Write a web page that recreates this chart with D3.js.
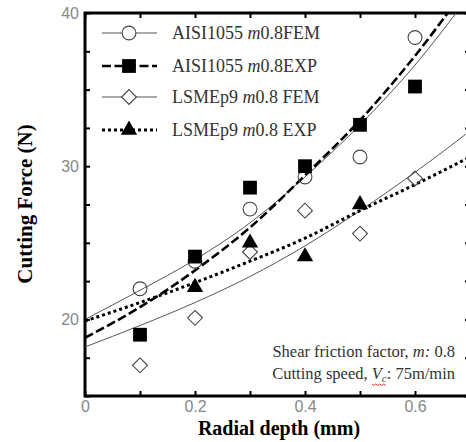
<!DOCTYPE html>
<html>
<head>
<meta charset="utf-8">
<script src="https://cdn.jsdelivr.net/npm/d3@7"></script>
<style>
  body { margin: 0; background: #fff; }
  svg { display: block; }
</style>
</head>
<body>
<div id="wrapper"></div>
<script>
// measured points
const depths = [0.1, 0.2, 0.3, 0.4, 0.5, 0.6];
const aisiFem = [22.0, 23.8, 27.2, 29.3, 30.6, 38.4];
const aisiExp = [19.0, 24.1, 28.6, 30.0, 32.7, 35.2];
const lsmeFem = [17.0, 20.1, 24.4, 27.1, 25.6, 29.2];
const lsmeExpDepths = [0.2, 0.3, 0.4, 0.5];
const lsmeExp = [22.1, 25.0, 24.1, 27.5];

// fitted curves
const fitDepths = [0, 0.1, 0.2, 0.3, 0.4, 0.5, 0.6, 0.7];
const aisiFemFit = [20.0, 21.9, 23.9, 26.3, 29.3, 32.7, 36.6, 41.2];
const aisiExpFit = [18.8, 20.8, 23.2, 26.0, 29.4, 33.0, 37.2, 42.0];
const lsmeFemFit = [18.2, 19.6, 21.1, 22.8, 24.8, 27.1, 29.6, 32.3];
const lsmeExpFit = [19.9, 21.1, 22.4, 23.8, 25.3, 27.1, 28.8, 30.6];

const xTicks = [0, 0.1, 0.2, 0.3, 0.4, 0.5, 0.6, 0.7];
const xTickLabels = ["0", "", "0.2", "", "0.4", "", "0.6", ""];
const yTicks = [15, 17.5, 20, 22.5, 25, 27.5, 30, 32.5, 35, 37.5, 40];
const yTickLabels = ["", "", "20", "", "", "", "30", "", "", "", "40"];

const legendLabels = ["AISI1055", "AISI1055", "LSMEp9", "LSMEp9"];
const legendSuffix = ["0.8FEM", "0.8EXP", "0.8 FEM", "0.8 EXP"];

const width = 466, height = 442;
const serif = "'Liberation Serif', 'DejaVu Serif', serif";

const svg = d3.select("#wrapper").append("svg")
  .attr("width", width)
  .attr("height", height);

const x = d3.scaleLinear().domain([0, 0.7]).range([85, 470]);
const y = d3.scaleLinear().domain([15, 40]).range([396, 13]);

svg.append("clipPath").attr("id", "plotclip")
  .append("rect")
  .attr("x", x(0)).attr("y", y(40))
  .attr("width", x(0.7) - x(0)).attr("height", y(15) - y(40));

// axes
const xAxisBottom = d3.axisBottom(x).tickValues(xTicks)
  .tickSizeInner(-5).tickSizeOuter(0).tickPadding(5)
  .tickFormat((d, i) => xTickLabels[i]);
const xAxisTop = d3.axisTop(x).tickValues(xTicks)
  .tickSizeInner(-5).tickSizeOuter(0).tickFormat("");
const yAxisLeft = d3.axisLeft(y).tickValues(yTicks)
  .tickSizeInner(-5).tickSizeOuter(0).tickPadding(6)
  .tickFormat((d, i) => yTickLabels[i]);
const yAxisRight = d3.axisRight(y).tickValues(yTicks)
  .tickSizeInner(-5).tickSizeOuter(0).tickFormat("");

const axes = [
  svg.append("g").attr("transform", `translate(0,${y(15)})`).call(xAxisBottom),
  svg.append("g").attr("transform", `translate(0,${y(40)})`).call(xAxisTop),
  svg.append("g").attr("transform", `translate(${x(0)},0)`).call(yAxisLeft),
  svg.append("g").attr("transform", `translate(${x(0.7)},0)`).call(yAxisRight)
];
axes.forEach(g => {
  g.select(".domain").remove();
  g.selectAll(".tick line").attr("stroke", "#000").attr("stroke-width", 2);
  g.selectAll(".tick text")
    .attr("fill", "#888")
    .style("font-family", "'Liberation Sans', Arial, sans-serif")
    .style("font-size", "16px");
});

svg.append("rect")
  .attr("x", x(0)).attr("y", y(40))
  .attr("width", x(0.7) - x(0)).attr("height", y(15) - y(40))
  .attr("fill", "none").attr("stroke", "#000").attr("stroke-width", 3);

// fitted curves
const line = d3.line()
  .x((d, i) => x(fitDepths[i]))
  .y(d => y(d))
  .curve(d3.curveMonotoneX);

const curves = svg.append("g").attr("clip-path", "url(#plotclip)");
const curveStyles = [
  { data: aisiFemFit, stroke: "#555", w: 1, dash: null },
  { data: lsmeFemFit, stroke: "#555", w: 1, dash: null },
  { data: aisiExpFit, stroke: "#000", w: 2.6, dash: "9,3.5" },
  { data: lsmeExpFit, stroke: "#000", w: 3, dash: "3,3" }
];
curveStyles.forEach(c => {
  curves.append("path")
    .attr("d", line(c.data))
    .attr("fill", "none")
    .attr("stroke", c.stroke)
    .attr("stroke-width", c.w)
    .attr("stroke-dasharray", c.dash);
});

// marker helpers
const sym = {
  circle: d3.symbol().type(d3.symbolCircle).size(150),
  square: d3.symbol().type(d3.symbolSquare).size(190),
  diamond: d3.symbol().type(d3.symbolDiamond2).size(140),
  triangle: d3.symbol().type(d3.symbolTriangle).size(115)
};
function drawMarker(g, kind, cx, cy) {
  const p = g.append("path")
    .attr("d", sym[kind]())
    .attr("transform", `translate(${cx},${cy})`);
  if (kind === "circle" || kind === "diamond") {
    p.attr("fill", "none").attr("stroke", "#444").attr("stroke-width", 1.1);
  } else {
    p.attr("fill", "#000");
  }
  return p;
}

const marks = svg.append("g");
depths.forEach((d, i) => drawMarker(marks, "circle", x(d), y(aisiFem[i])));
depths.forEach((d, i) => drawMarker(marks, "diamond", x(d), y(lsmeFem[i])));
depths.forEach((d, i) => drawMarker(marks, "square", x(d), y(aisiExp[i])));
lsmeExpDepths.forEach((d, i) => drawMarker(marks, "triangle", x(d), y(lsmeExp[i])));

// legend
const legendY = [33, 66, 97, 130];
const legendKinds = ["circle", "square", "diamond", "triangle"];
const legend = svg.append("g");
legendKinds.forEach((k, i) => {
  const s = curveStyles[[0, 2, 1, 3][i]];
  legend.append("line")
    .attr("x1", 102).attr("x2", 157)
    .attr("y1", legendY[i]).attr("y2", legendY[i])
    .attr("stroke", s.stroke).attr("stroke-width", s.w)
    .attr("stroke-dasharray", s.dash);
  const m = drawMarker(legend, k, 129, legendY[i]);
  if (k === "circle" || k === "diamond") m.attr("fill", "#fff");
  const t = legend.append("text")
    .attr("x", 172).attr("y", legendY[i] + 6)
    .attr("fill", "#333")
    .style("font-family", serif)
    .style("font-size", "18px");
  t.append("tspan").text(legendLabels[i] + " ");
  t.append("tspan").style("font-style", "italic").text("m");
  t.append("tspan").text(legendSuffix[i]);
});

// annotation
const note1 = svg.append("text")
  .attr("x", 455).attr("y", 357).attr("text-anchor", "end")
  .attr("fill", "#333").style("font-family", serif).style("font-size", "16.5px");
note1.append("tspan").text("Shear friction factor, ");
note1.append("tspan").style("font-style", "italic").text("m:");
note1.append("tspan").text(" 0.8");

const note2 = svg.append("text")
  .attr("x", 455).attr("y", 379).attr("text-anchor", "end")
  .attr("fill", "#333").style("font-family", serif).style("font-size", "16.5px");
note2.append("tspan").text("Cutting speed, ");
note2.append("tspan").style("font-style", "italic").text("V");
note2.append("tspan").attr("dy", 3).style("font-size", "11px").style("font-style", "italic").text("c");
note2.append("tspan").attr("dy", -3).text(": 75m/min");

// red squiggle under V_c
const vIdx = "Cutting speed, ".length;
const n2 = note2.node();
const vStart = n2.getStartPositionOfChar(vIdx).x;
const cEnd = n2.getEndPositionOfChar(vIdx + 1).x;
const sq = [];
for (let px = vStart; px <= cEnd + 0.1; px += 2) sq.push([px, 384 + ((Math.round((px - vStart) / 2) % 2) ? 1.5 : 0)]);
svg.append("path")
  .attr("d", d3.line()(sq))
  .attr("fill", "none").attr("stroke", "#e03030").attr("stroke-width", 1);

// axis titles
svg.append("text")
  .attr("transform", "translate(32,204) rotate(-90)")
  .attr("text-anchor", "middle")
  .style("font-family", serif).style("font-weight", "bold").style("font-size", "21px")
  .text("Cutting Force (N)");

svg.append("text")
  .attr("x", 279).attr("y", 435)
  .attr("text-anchor", "middle")
  .style("font-family", serif).style("font-weight", "bold").style("font-size", "20px")
  .text("Radial depth (mm)");
</script>
</body>
</html>
